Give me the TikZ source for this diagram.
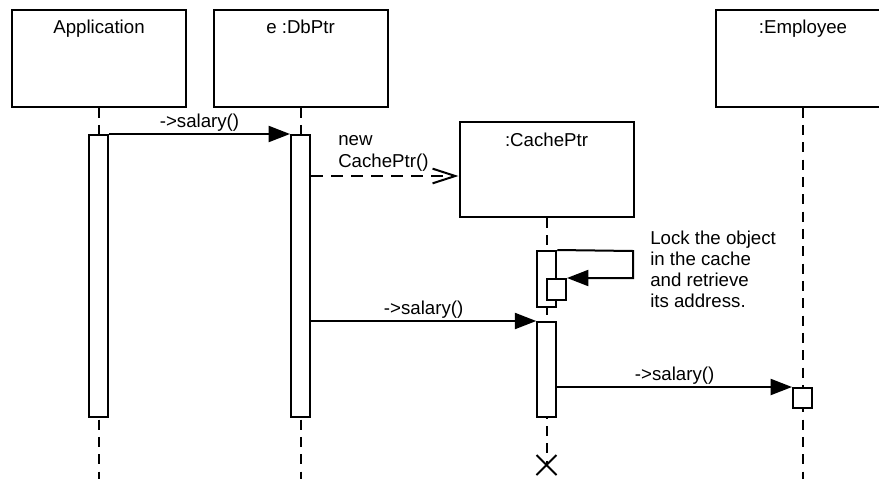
\documentclass[tikz,border=0pt]{standalone}
\usepackage{fontspec}
\setmainfont{Liberation Sans}
\usetikzlibrary{arrows.meta}

\tikzset{
  box/.style={draw, line width=1.5pt, minimum width=130.5pt, minimum height=72.75pt, inner sep=0pt},
  title/.style={anchor=north, inner sep=0pt},
  bar/.style={draw, fill=white, line width=1.5pt, minimum width=14.25pt, inner sep=0pt},
  lifeline/.style={line width=1.5pt, dash pattern=on 7.5pt off 5.5pt},
  call/.style={line width=1.5pt, -{Triangle[length=16pt,width=12pt]}},
  create/.style={line width=1.5pt, dash pattern=on 9pt off 6pt, -{Straight Barb[length=17pt,width=11pt]}},
  msglabel/.style={above, inner sep=1.5pt},
}

\begin{document}
\begin{tikzpicture}[x=0.75pt, y=-0.75pt, font=\fontsize{14}{15.75}\selectfont]
  \useasboundingbox (0,0) rectangle (879,479);
  \clip (0,0) rectangle (879,479);

  \node[box] (app) at (99,58) {};
  \node[box] (db) at (300.5,58) {};
  \node[box, minimum height=71.25pt] (cache) at (546.5,169.5) {};
  \node[box] (emp) at (803,58) {};

  \node[title] (apptitle) at ([yshift=-8.5pt]app.north) {Application};
  \node[title] (dbtitle) at ([yshift=-8.5pt]db.north) {e :DbPtr};
  \node[title] (cachetitle) at ([yshift=-8.5pt]cache.north) {:CachePtr};
  \node[title] (emptitle) at ([yshift=-8.5pt]emp.north) {:Employee};

  \coordinate (bottom) at (0,479);
  \coordinate (cacheend) at (546.5,465);
  \draw[lifeline] (app.south) -- (app.south |- bottom);
  \draw[lifeline] (db.south) -- (db.south |- bottom);
  \draw[lifeline] (cache.south) -- (cacheend);
  \draw[lifeline] (emp.south) -- (emp.south |- bottom);

  \node[bar, minimum height=211.5pt] (appbar) at (98.5,276) {};
  \node[bar, minimum height=211.5pt] (dbbar) at (300.5,276) {};
  \node[bar, minimum height=42pt] (lockbar) at (546.75,279) {};
  \node[bar, minimum height=15.75pt] (lockself) at (556.5,289.5) {};
  \node[bar, minimum height=71.25pt] (cachebar) at (546.75,369.5) {};
  \node[bar, minimum height=15pt] (empbar) at (802.5,398) {};

  \draw[call] (appbar.north east) -- node[msglabel] (m1) {->salary()} (dbbar.north west);

  \coordinate (newy) at (0,176);
  \draw[create] (dbbar.east |- newy) -- (cache.west |- newy);
  \node[anchor=north west, align=left, inner sep=0pt, font=\fontsize{14}{16.5}\selectfont] (newlbl) at (338,135) {new\\CachePtr()};

  \coordinate (lockturn) at (633,251);
  \draw[call] (lockbar.north east) -- (lockturn) |- (lockself.north east);
  \node[anchor=north west, align=left, inner sep=0pt] (note) at (650,231) {Lock the object\\in the cache\\and retrieve\\its address.};

  \draw[call] (dbbar.east |- cachebar.north) -- node[msglabel] (m2) {->salary()} (cachebar.north west);
  \draw[call] (cachebar.east |- empbar.north) -- node[msglabel] (m3) {->salary()} (empbar.north west);

  \draw[line width=1.5pt] (cacheend) +(-10,-10) -- +(10,10) (cacheend) +(-10,10) -- +(10,-10);
\end{tikzpicture}
\end{document}
